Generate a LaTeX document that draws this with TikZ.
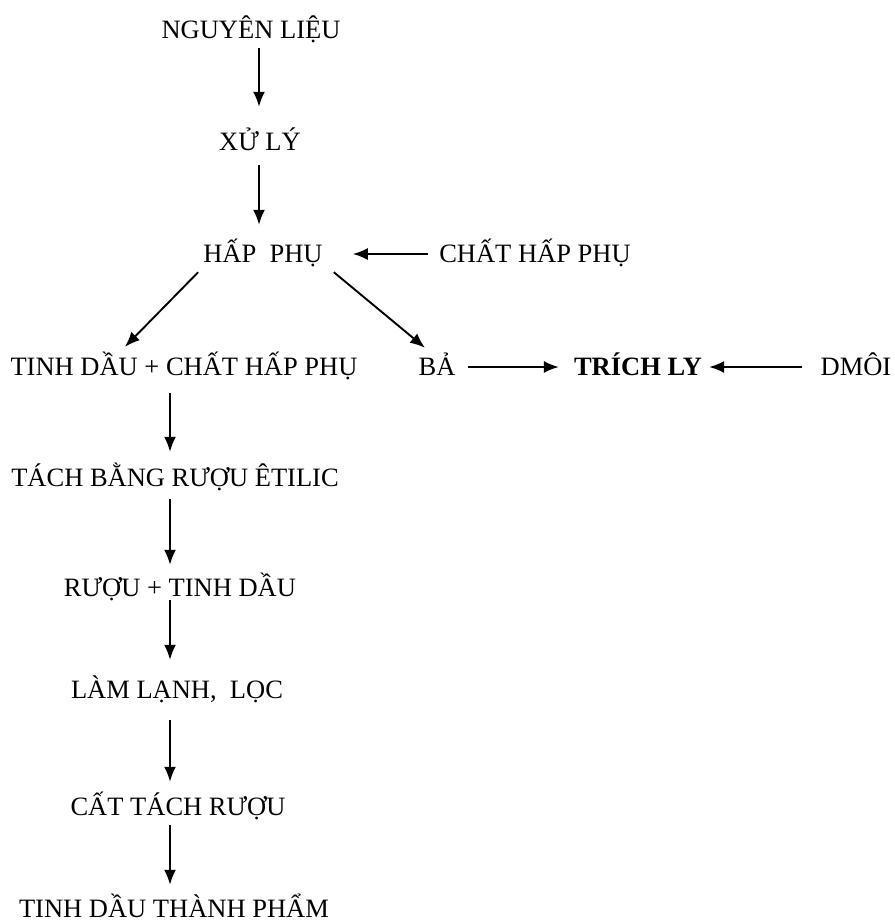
\documentclass[tikz,border=0pt]{standalone}
\usepackage{fontspec}
\setmainfont{Liberation Serif}
\usetikzlibrary{arrows.meta}

\begin{document}
\begin{tikzpicture}[x=1pt,y=-1pt,
  lbl/.style={anchor=base,inner sep=0pt,text height=20pt,text depth=4pt,
    font=\fontsize{26.5}{30}\selectfont},
  arr/.style={line width=1.9pt,-{Latex[length=15pt,width=12pt]}}]
\useasboundingbox[fill=white] (0,0) rectangle (895,922);

% column guides for the vertical arrows
\coordinate (colT) at (259,0);
\coordinate (colL) at (170,0);

% process steps
\node[lbl] (n1)  at (251,38)  {NGUYÊN LIỆU};
\node[lbl] (n2)  at (260,150) {XỬ LÝ};
\node[lbl] (n3)  at (263,262) {HẤP~ PHỤ};
\node[lbl] (n4)  at (535,262) {CHẤT HẤP PHỤ};
\node[lbl] (n5)  at (184,375) {TINH DẦU + CHẤT HẤP PHỤ};
\node[lbl] (n6)  at (437,375) {BẢ};
\node[lbl,font=\fontsize{26.5}{30}\selectfont\bfseries] (n7) at (638,375) {TRÍCH LY};
\node[lbl] (n8)  at (856,375) {DMÔI};
\node[lbl] (n9)  at (175,486) {TÁCH BẰNG RƯỢU ÊTILIC};
\node[lbl] (n10) at (180,596) {RƯỢU + TINH DẦU};
\node[lbl] (n11) at (177,698) {LÀM LẠNH,~ LỌC};
\node[lbl] (n12) at (178,815) {CẤT TÁCH RƯỢU};
\node[lbl] (n13) at (174,917) {TINH DẦU THÀNH PHẨM};

% main line
\draw[arr,shorten <=6pt,shorten >=23pt] (n1.south -| colT) -- (n2.north -| colT);
\draw[arr,shorten <=11pt,shorten >=17pt] (n2.south -| colT) -- (n3.north -| colT);
\draw[arr,shorten <=11pt,shorten >=30pt] (n4.west) -- (n3.east);

% split after adsorption
\draw[arr] ([xshift=-5pt,yshift=-6pt]n3.south west) -- ([xshift=-59pt,yshift=8pt]n5.north);
\draw[arr] ([xshift=11pt,yshift=-6pt]n3.south east) -- ([xshift=-12pt,yshift=7pt]n6.north);

% residue branch
\draw[arr,shorten <=12pt,shorten >=15pt] (n6.east) -- (n7.west);
\draw[arr,shorten <=18pt,shorten >=7pt] (n8.west) -- (n7.east);

% essential oil branch
\draw[arr,shorten <=14pt,shorten >=14pt] (n5.south -| colL) -- (n9.north -| colL);
\draw[arr,shorten <=9pt,shorten >=11pt] (n9.south -| colL) -- (n10.north -| colL);
\draw[arr,shorten <=0pt,shorten >=18pt] (n10.south -| colL) -- (n11.north -| colL);
\draw[arr,shorten <=18pt,shorten >=13pt] (n11.south -| colL) -- (n12.north -| colL);
\draw[arr,shorten <=6pt,shorten >=12pt] (n12.south -| colL) -- (n13.north -| colL);
\end{tikzpicture}
\end{document}
